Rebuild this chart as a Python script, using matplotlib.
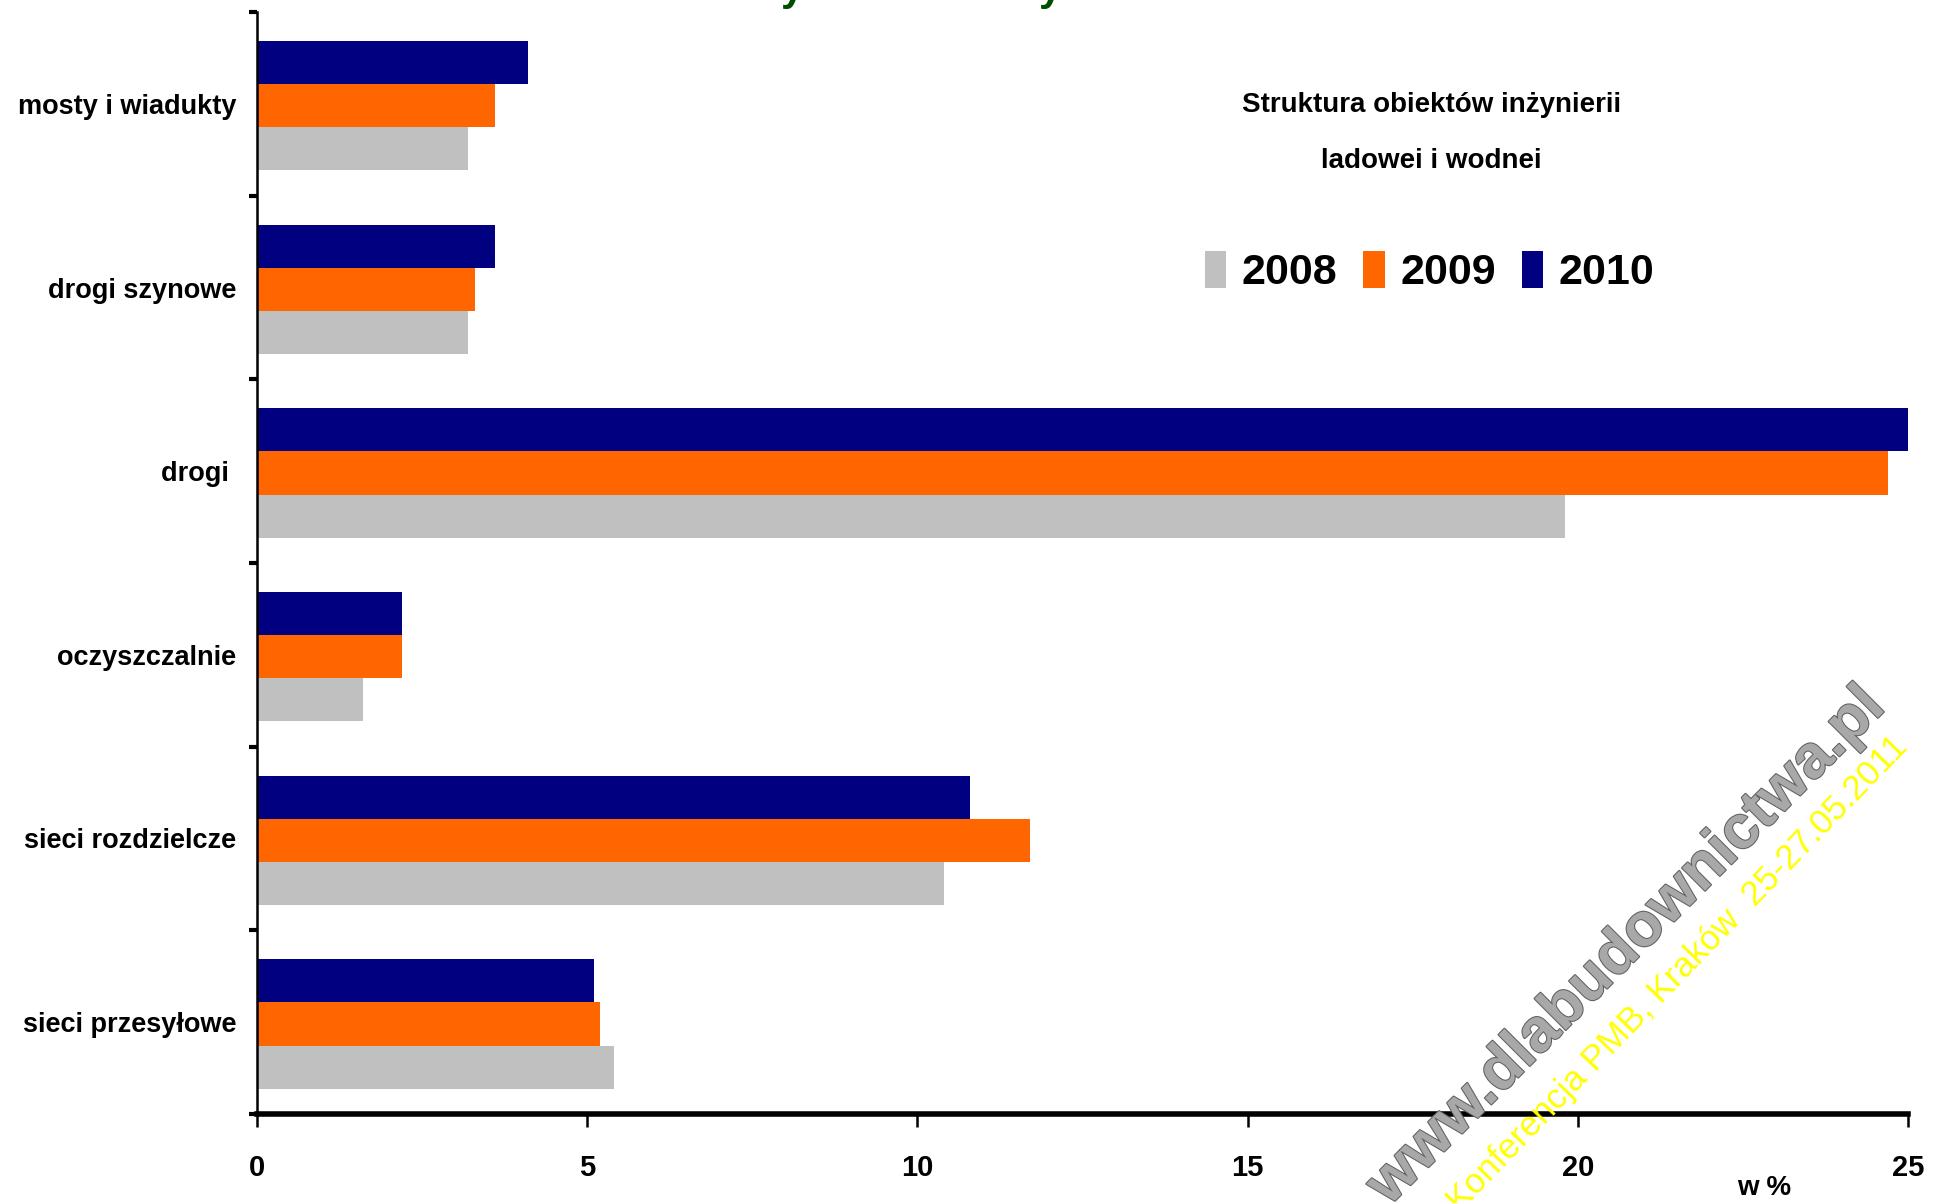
import matplotlib
matplotlib.use("Agg")
import matplotlib.pyplot as plt
import matplotlib.patheffects as pe
import numpy as np

plt.rcParams['font.family'] = ['Liberation Sans', 'DejaVu Sans']
plt.rcParams['font.weight'] = 'bold'

categories = ["mosty i wiadukty", "drogi szynowe", "drogi ", "oczyszczalnie",
              "sieci rozdzielcze", "sieci przesyłowe"]
years = ["2008", "2009", "2010"]
v2008 = [3.2, 3.2, 19.8, 1.6, 10.4, 5.4]
v2009 = [3.6, 3.3, 24.7, 2.2, 11.7, 5.2]
v2010 = [4.1, 3.6, 25.2, 2.2, 10.8, 5.1]
colors = ["#C0C0C0", "#FF6600", "#000080"]

fig = plt.figure(figsize=(19.37, 12.03), dpi=100)
ax = fig.add_axes([0.1327, 0.074, 0.8523, 0.916])

y = np.arange(len(categories))
h = 0.235
offsets = [h, 0.0, -h]
bars = []
for vals, off, col, yr in zip([v2008, v2009, v2010], offsets, colors, years):
    b = ax.barh(y + off + 0.01, vals, height=h, color=col, label=yr, edgecolor='none')
    bars.append(b)

ax.set_xlim(0, 25)
ax.set_ylim(len(categories) - 0.5, -0.5)

# axes styling
for s in ['top', 'right']:
    ax.spines[s].set_visible(False)
ax.spines['bottom'].set_linewidth(4)
ax.spines['left'].set_linewidth(1.8)

ax.set_xticks([0, 5, 10, 15, 20, 25])
ax.set_xticklabels(["0", "5", "10", "15", "20", "25"], fontsize=21, fontweight='bold')
ax.tick_params(axis='x', direction='out', length=9, width=1.8, pad=20)

ax.set_yticks(np.arange(-0.5, len(categories), 1.0))
ax.set_yticklabels([])
ax.tick_params(axis='y', which='major', direction='out', length=6, width=3)
ax.set_yticks(y, minor=True)
ax.set_yticklabels(categories, minor=True, fontsize=19.5, fontweight='bold')
ax.tick_params(axis='y', which='minor', length=0, pad=15)

fig.text(0.911, 0.0125, "w %", fontsize=20, fontweight='bold', ha='center', va='center')

# legend and its title
fig.text(0.739, 0.913, "Struktura obiektów inżynierii", fontsize=20, fontweight='bold',
         ha='center', va='center')
fig.text(0.739, 0.866, "ladowei i wodnei", fontsize=20, fontweight='bold',
         ha='center', va='center')
leg = fig.legend(handles=bars, labels=years, ncol=3, frameon=False,
                 loc='center', bbox_to_anchor=(0.738, 0.774),
                 handlelength=0.5, handleheight=0.95, handletextpad=0.36,
                 columnspacing=0.6, prop={'weight': 'bold', 'size': 31})

# cut-off title at the top
fig.text(0.403, 1.0, "y", color="#004d00", fontsize=30, fontweight='bold', va='baseline')
fig.text(0.536, 1.0, "y", color="#004d00", fontsize=30, fontweight='bold', va='baseline')

# watermark
fig.text(0.840, 0.213, "www.dlabudownictwa.pl", rotation=45, fontsize=44,
         fontweight='bold', color="#a8a8a8", ha='center', va='center',
         path_effects=[pe.withStroke(linewidth=1.5, foreground="#606060")])
fig.text(0.866, 0.190, "Konferencja PMB, Kraków  25-27.05.2011", rotation=46, fontsize=25,
         fontweight='normal', color="#ffff00", ha='center', va='center')

fig.savefig("out.png", dpi=100)
